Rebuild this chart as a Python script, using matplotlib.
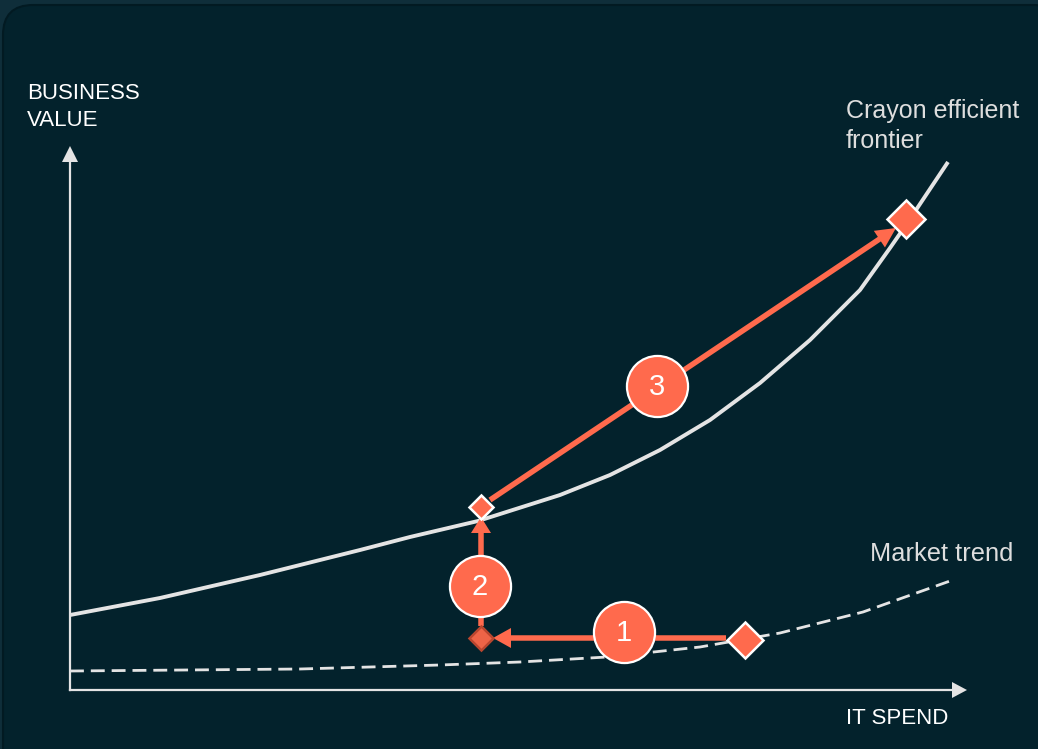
import matplotlib
matplotlib.use("Agg")
import matplotlib.pyplot as plt
from matplotlib.patches import FancyBboxPatch

# colours
BG_OUT = "#0f2e3a"
BG_IN = "#03222c"
ORANGE = "#ff6a4d"
LIGHT = "#e4e4e4"

# curves (pixel-like units, y grows downward)
frontier_x = [70, 160, 260, 360, 410, 478, 560, 610, 660, 710, 760, 810, 860, 890, 906, 948]
frontier_y = [615, 598, 575, 550, 537, 521, 495, 475, 450, 420, 383, 340, 290, 248, 225, 162]
market_x = [70, 300, 440, 520, 607, 700, 780, 863, 950]
market_y = [671, 669, 665, 662, 657, 647, 633, 612, 581]

# the three moves
step_start_x = [726, 481, 490]
step_start_y = [638, 626, 500]
step_end_x = [493, 481, 896]
step_end_y = [638, 517, 228]
head_len = [18, 16, 20]

# diamonds: start, after step 1, after step 2, final
diam_x = [745, 481, 481, 906]
diam_y = [640, 638, 507, 219]
diam_size = [18, 12.5, 12, 19]

# numbered circles
circle_x = [624, 480, 657]
circle_y = [632, 586, 386]
circle_lbl = ["1", "2", "3"]

fig = plt.figure(figsize=(10.38, 7.49), dpi=100, facecolor=BG_OUT)
ax = fig.add_axes([0, 0, 1, 1])
ax.set_xlim(0, 1038)
ax.set_ylim(749, 0)
ax.axis("off")

ax.add_patch(FancyBboxPatch((3, 5), 1060, 780, boxstyle="round,pad=0,rounding_size=30",
                            facecolor=BG_IN, edgecolor="#021a22", lw=1.5, zorder=0))

# axes arrows
ax.plot([70, 70], [690, 155], color=LIGHT, lw=1.6, zorder=2)
ax.plot([70, 955], [690, 690], color=LIGHT, lw=1.6, zorder=2)
ax.arrow(70, 160, 0, -14, width=0, head_width=16, head_length=16,
         length_includes_head=True, color=LIGHT, lw=0, zorder=2)
ax.arrow(952, 690, 15, 0, width=0, head_width=16, head_length=15,
         length_includes_head=True, color=LIGHT, lw=0, zorder=2)

# curves
ax.plot(frontier_x, frontier_y, color=LIGHT, lw=2.8, solid_capstyle="butt",
        solid_joinstyle="round", zorder=3)
ax.plot(market_x, market_y, color=LIGHT, lw=2.0, dashes=(5, 2.5), zorder=3)

# arrows of the moves
for i in range(3):
    ax.arrow(step_start_x[i], step_start_y[i],
             step_end_x[i] - step_start_x[i], step_end_y[i] - step_start_y[i],
             width=5.5, head_width=20, head_length=head_len[i],
             length_includes_head=True, color=ORANGE, lw=0, zorder=4)

# diamonds
for i in range(4):
    if i == 1:
        fc, ec = "#ee6447", "#b9462f"
    else:
        fc, ec = ORANGE, "white"
    ax.plot(diam_x[i], diam_y[i], marker="D", ms=diam_size[i], mfc=fc, mec=ec,
            mew=1.8, zorder=5)

# numbered circles
for i in range(3):
    ax.plot(circle_x[i], circle_y[i], marker="o", ms=44, mfc=ORANGE, mec="white",
            mew=1.6, zorder=6)
    ax.text(circle_x[i], circle_y[i] + 1, circle_lbl[i], color="white", fontsize=21,
            family="Liberation Sans", ha="center", va="center", zorder=7)

# labels
ax.text(27, 83, "BUSINESS\nVALUE", color="white", fontsize=16, family="Liberation Sans",
        ha="left", va="top", linespacing=1.35)
ax.text(846, 99, "Crayon efficient\nfrontier", color="#dedede", fontsize=18,
        family="Liberation Sans", ha="left", va="top", linespacing=1.3)
ax.text(870, 561, "Market trend", color="#dedede", fontsize=18.3,
        family="Liberation Sans", ha="left", va="baseline")
ax.text(846, 724, "IT SPEND", color="white", fontsize=16, family="Liberation Sans",
        ha="left", va="baseline")

fig.savefig("out.png", dpi=100, facecolor=BG_OUT)
